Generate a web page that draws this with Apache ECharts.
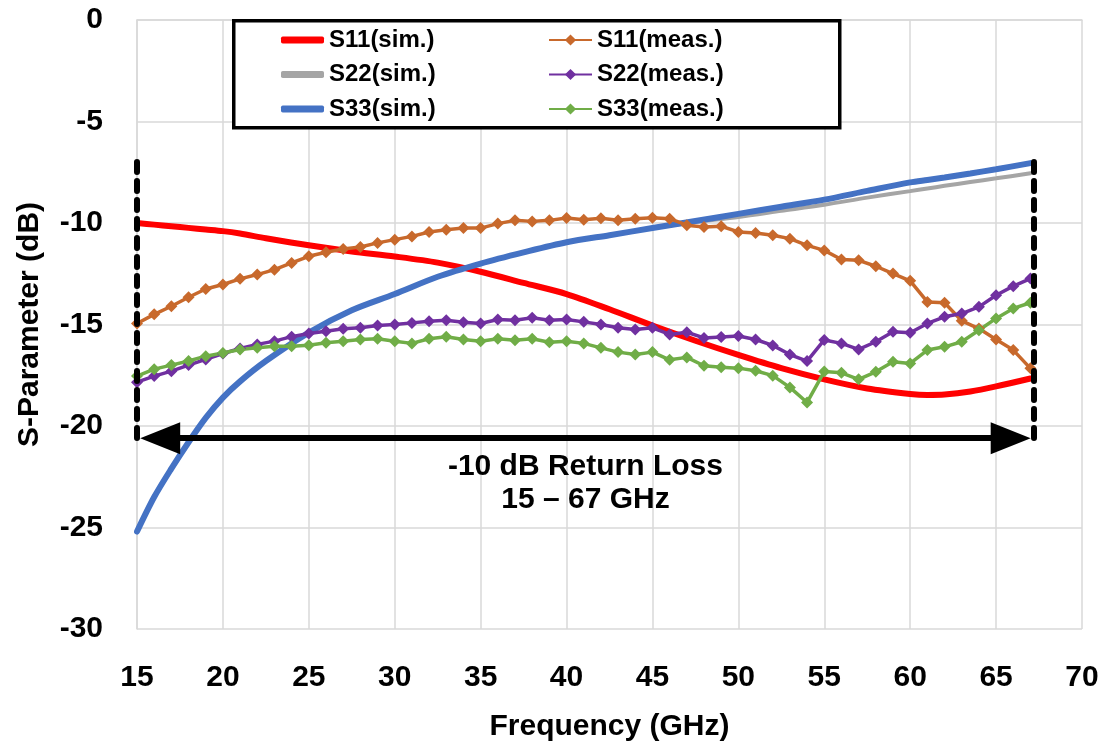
<!DOCTYPE html>
<html>
<head>
<meta charset="utf-8">
<script src="https://cdn.jsdelivr.net/npm/echarts@6/dist/echarts.min.js"></script>
<style>html,body{margin:0;padding:0;background:#fff}#c{width:1105px;height:753px}</style>
</head>
<body>
<div id="c"></div>
<script>
// Simulated curves (frequency GHz, dB)
const simFreq = [15, 16, 17, 18, 19, 20, 21, 22.5, 25, 27.5, 30, 32.5, 35, 37.5, 40, 42.5, 45, 47.5, 50, 52.5, 55, 57.5, 60, 61, 62, 63.5, 65, 67];
const s11Sim  = [-10.0, -10.08, -10.16, -10.24, -10.32, -10.4, -10.52, -10.75, -11.1, -11.4, -11.65, -11.95, -12.4, -12.95, -13.5, -14.25, -15.05, -15.8, -16.5, -17.15, -17.7, -18.15, -18.42, -18.47, -18.45, -18.3, -18.05, -17.66];
const s22Sim  = [-25.2, -23.5, -22.1, -20.8, -19.6, -18.6, -17.8, -16.8, -15.4, -14.3, -13.5, -12.65, -12.0, -11.45, -10.95, -10.6, -10.25, -9.95, -9.7, -9.4, -9.1, -8.75, -8.43, -8.3, -8.17, -7.98, -7.8, -7.55];
const s33Sim  = [-25.2, -23.5, -22.1, -20.8, -19.6, -18.6, -17.8, -16.8, -15.4, -14.3, -13.5, -12.65, -12.0, -11.45, -10.95, -10.6, -10.25, -9.9, -9.55, -9.2, -8.85, -8.42, -8.0, -7.88, -7.76, -7.56, -7.35, -7.05];

// Measured curves, 1 GHz steps
const measFreq = [15,16,17,18,19,20,21,22,23,24,25,26,27,28,29,30,31,32,33,34,35,36,37,38,39,40,41,42,43,44,45,46,47,48,49,50,51,52,53,54,55,56,57,58,59,60,61,62,63,64,65,66,67];
const s11Meas = [-14.95,-14.5,-14.1,-13.66,-13.25,-13.03,-12.75,-12.54,-12.3,-11.97,-11.64,-11.44,-11.28,-11.18,-10.98,-10.82,-10.66,-10.44,-10.33,-10.25,-10.25,-10.03,-9.87,-9.92,-9.87,-9.75,-9.84,-9.77,-9.87,-9.79,-9.74,-9.79,-10.11,-10.2,-10.16,-10.44,-10.49,-10.6,-10.77,-11.1,-11.35,-11.8,-11.84,-12.13,-12.49,-12.85,-13.89,-13.93,-14.82,-15.2,-15.74,-16.26,-17.16];
const s22Meas = [-17.84,-17.54,-17.3,-17.0,-16.72,-16.43,-16.18,-15.98,-15.82,-15.6,-15.44,-15.33,-15.21,-15.16,-15.05,-15.0,-14.92,-14.84,-14.79,-14.89,-14.95,-14.75,-14.79,-14.67,-14.79,-14.75,-14.87,-15.0,-15.16,-15.25,-15.16,-15.49,-15.38,-15.66,-15.61,-15.57,-15.74,-16.03,-16.48,-16.8,-15.76,-15.93,-16.23,-15.85,-15.36,-15.41,-14.95,-14.62,-14.46,-14.13,-13.56,-13.11,-12.74];
const s33Meas = [-17.54,-17.2,-17.0,-16.8,-16.56,-16.4,-16.23,-16.15,-16.07,-16.07,-16.02,-15.9,-15.82,-15.74,-15.7,-15.82,-15.93,-15.7,-15.6,-15.74,-15.82,-15.7,-15.77,-15.7,-15.87,-15.82,-15.93,-16.15,-16.36,-16.48,-16.36,-16.74,-16.62,-17.03,-17.11,-17.15,-17.28,-17.52,-18.1,-18.84,-17.32,-17.38,-17.7,-17.33,-16.84,-16.92,-16.26,-16.1,-15.85,-15.28,-14.7,-14.21,-13.93];

// Annotation values
const bandStart = 15, bandEnd = 67.2;
const dotTop = -7.0, dotBottom = -20.9;
const arrowLevel = -20.6;
const annText1 = '-10 dB Return Loss';
const annText2 = '15 \u2013 67 GHz';

const FONT = '"Liberation Sans", Arial, sans-serif';
const pair = (xs, ys) => xs.map((x, i) => [x, ys[i]]);

const chart = echarts.init(document.getElementById('c'), null, {renderer: 'canvas'});

const simSeries = (name, data, color, width, z) => ({
  name, type: 'line', data, smooth: 0.3, showSymbol: false, symbol: 'none',
  lineStyle: {color, width, cap: 'round'}, itemStyle: {color}, z, animation: false
});
const measSeries = (name, data, color, z) => ({
  name, type: 'line', data, symbol: 'diamond', symbolSize: 12, showSymbol: true,
  lineStyle: {color, width: 3.5}, itemStyle: {color}, z, animation: false
});

const legendText = {fontFamily: FONT, fontWeight: 'bold', fontSize: 24, color: '#000', lineHeight: 24};
const axisFont = {fontFamily: FONT, fontWeight: 'bold', fontSize: 30, color: '#000'};

chart.setOption({
  backgroundColor: '#fff',
  animation: false,
  grid: {left: 137, right: 23, top: 20, bottom: 124, containLabel: false, outerBoundsMode: 'none'},
  xAxis: {
    type: 'value', min: 15, max: 70, interval: 5,
    name: 'Frequency (GHz)', nameLocation: 'middle', nameGap: 83,
    nameTextStyle: axisFont,
    axisLine: {show: true, lineStyle: {color: '#d9d9d9', width: 1.5}},
    axisTick: {show: false},
    axisLabel: Object.assign({margin: 34}, axisFont),
    splitLine: {show: true, lineStyle: {color: '#d9d9d9', width: 1.5}}
  },
  yAxis: {
    type: 'value', min: -30, max: 0, interval: 5,
    name: 'S-Parameter (dB)', nameLocation: 'middle', nameGap: 92,
    nameTextStyle: axisFont,
    axisLine: {show: true, lineStyle: {color: '#d9d9d9', width: 1.5}},
    axisTick: {show: false},
    axisLabel: Object.assign({margin: 34}, axisFont),
    splitLine: {show: true, lineStyle: {color: '#d9d9d9', width: 1.5}}
  },
  legend: [
    {orient: 'vertical', left: 281, top: 28, padding: 0, itemWidth: 43, itemHeight: 7, itemGap: 10.5,
     textStyle: legendText, selectedMode: false, z: 20,
     data: [{name: 'S11(sim.)', icon: 'roundRect'}, {name: 'S22(sim.)', icon: 'roundRect'}, {name: 'S33(sim.)', icon: 'roundRect'}]},
    {orient: 'vertical', left: 548, top: 28, padding: 0, itemWidth: 43, itemHeight: 14, itemGap: 10.5,
     textStyle: legendText, data: ['S11(meas.)', 'S22(meas.)', 'S33(meas.)'], selectedMode: false, z: 20}
  ],
  series: [
    simSeries('S11(sim.)', pair(simFreq, s11Sim), '#FF0000', 6, 2),
    simSeries('S22(sim.)', pair(simFreq, s22Sim), '#A5A5A5', 4, 2),
    simSeries('S33(sim.)', pair(simFreq, s33Sim), '#4472C4', 6, 3),
    measSeries('S11(meas.)', pair(measFreq, s11Meas), '#C8692C', 4),
    measSeries('S22(meas.)', pair(measFreq, s22Meas), '#7030A0', 4),
    measSeries('S33(meas.)', pair(measFreq, s33Meas), '#70AD47', 4),
    {
      name: 'annot', type: 'line', data: [], z: 6, animation: false,
      markLine: {
        silent: true, animation: false, label: {show: false},
        data: [
          [{coord: [bandStart, dotTop], symbol: 'none'}, {coord: [bandStart, dotBottom], symbol: 'none',
            lineStyle: {color: '#000', width: 6, type: [10, 9], cap: 'round'}}],
          [{coord: [bandEnd, dotTop], symbol: 'none'}, {coord: [bandEnd, dotBottom], symbol: 'none',
            lineStyle: {color: '#000', width: 6, type: [10, 9], cap: 'round'}}],
          [{coord: [bandStart + 1.35, arrowLevel], symbol: 'triangle', symbolSize: [32, 40]},
           {coord: [bandEnd - 1.35, arrowLevel], symbol: 'triangle', symbolSize: [32, 40],
            lineStyle: {color: '#000', width: 6, type: 'solid'}}]
        ],
        lineStyle: {color: '#000', width: 6},
        itemStyle: {color: '#000'}
      }
    }
  ]
});

const mid = (bandStart + bandEnd) / 2;
const p1 = chart.convertToPixel({gridIndex: 0}, [mid, -22.0]);
const p2 = chart.convertToPixel({gridIndex: 0}, [mid, -23.65]);
chart.setOption({
  graphic: [
    {type: 'rect', left: 232, top: 19, z: 10, shape: {width: 606, height: 107},
     style: {fill: '#fff', stroke: '#000', lineWidth: 3.5}},
    {type: 'text', x: p1[0], y: p1[1], z: 30,
     style: {text: annText1, font: 'bold 30px ' + FONT, fill: '#000', textAlign: 'center', textVerticalAlign: 'middle'}},
    {type: 'text', x: p2[0], y: p2[1], z: 30,
     style: {text: annText2, font: 'bold 30px ' + FONT, fill: '#000', textAlign: 'center', textVerticalAlign: 'middle'}}
  ]
});
</script>
</body>
</html>
